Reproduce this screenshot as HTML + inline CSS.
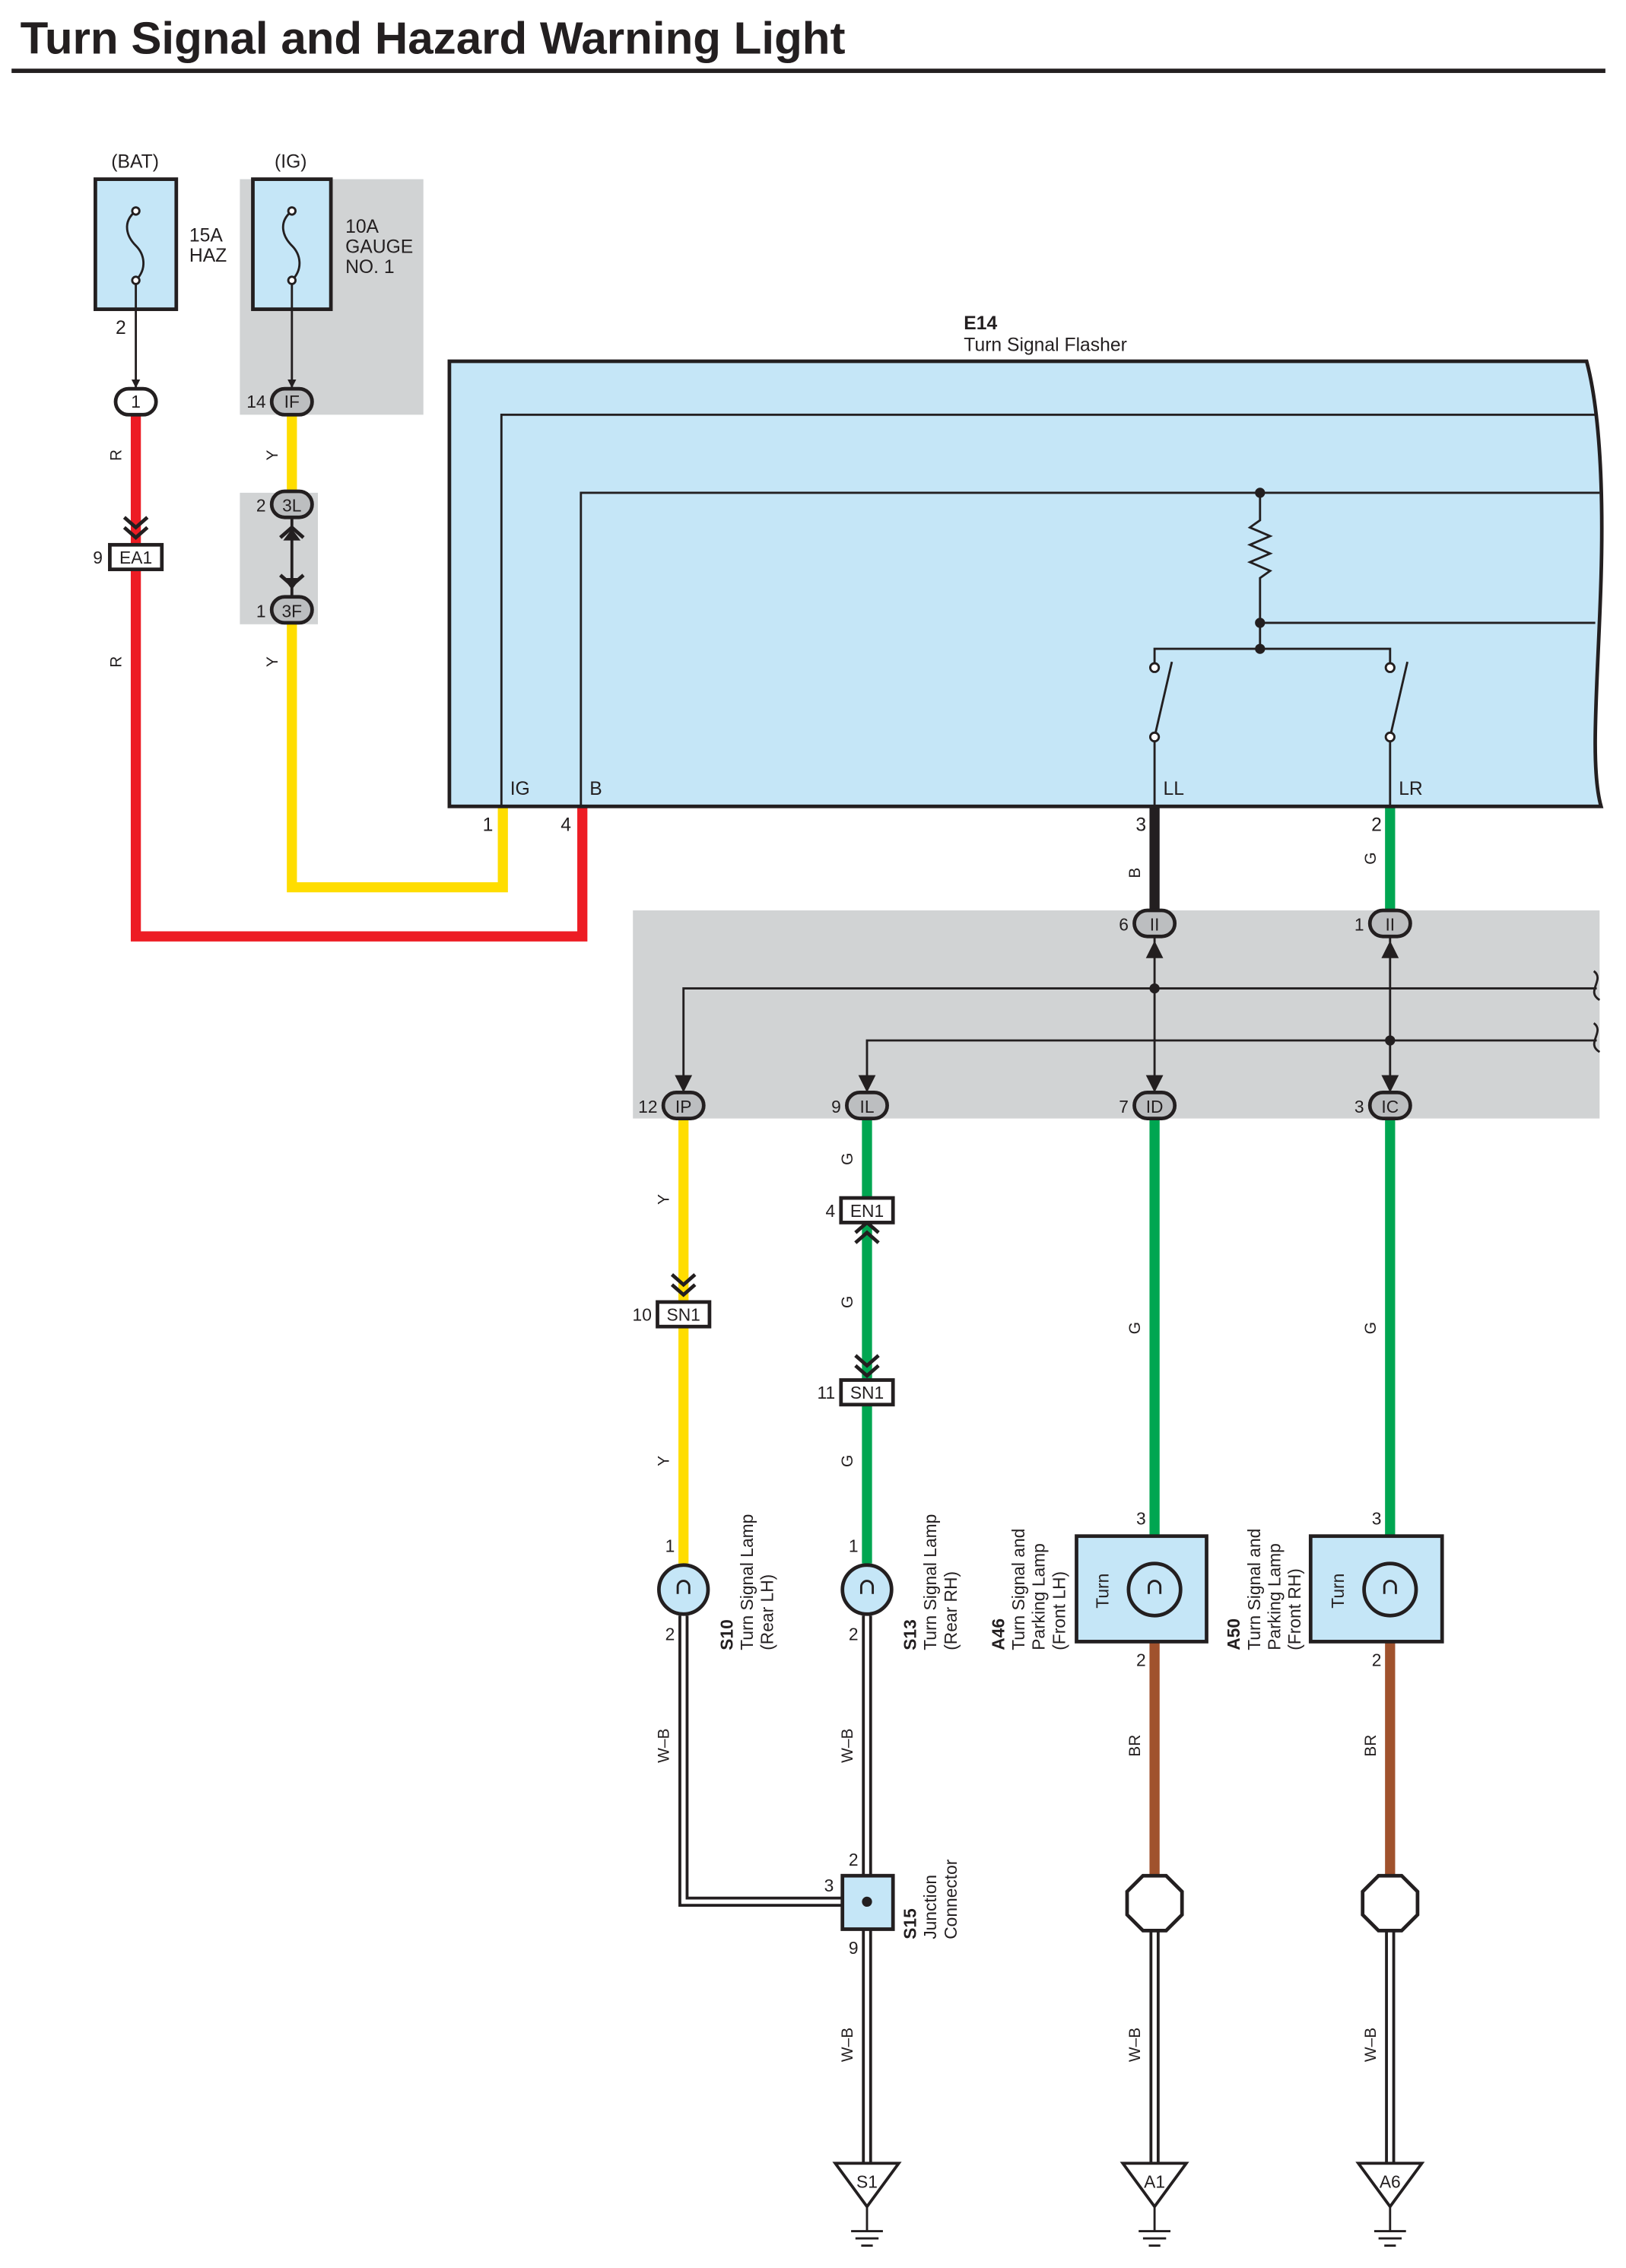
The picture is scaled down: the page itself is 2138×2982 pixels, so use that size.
<!DOCTYPE html>
<html><head><meta charset="utf-8"><style>html,body{margin:0;padding:0;background:#fff}svg{display:block}text{font-family:"Liberation Sans",sans-serif;fill:#231f20}</style></head><body>
<svg width="2138" height="2982" viewBox="0 0 1125.26 1569.47" xmlns="http://www.w3.org/2000/svg">
<defs>
<marker id="ar" viewBox="0 0 10 10" refX="9" refY="5" markerWidth="4" markerHeight="4" orient="auto"><path d="M0,0L10,5L0,10z" fill="#231f20"/></marker>
</defs>
<text x="14" y="37" font-size="31" font-weight="bold" textLength="571" lengthAdjust="spacingAndGlyphs">Turn Signal and Hazard Warning Light</text>
<rect x="8" y="47.5" width="1103" height="3" fill="#231f20"/>

<rect x="166" y="124" width="127" height="163" fill="#d1d3d4"/>
<rect x="166" y="341" width="54" height="91" fill="#d1d3d4"/>
<rect x="438" y="630" width="669" height="144" fill="#d1d3d4"/>

<g fill="none" stroke-linejoin="miter">
<path d="M94,287V648H403V558" stroke="#ed1c24" stroke-width="7"/>
<path d="M202,287V341" stroke="#ffdd00" stroke-width="7"/>
<path d="M202,431V614H348V558" stroke="#ffdd00" stroke-width="7"/>
<path d="M799,558V630" stroke="#231f20" stroke-width="7"/>
<path d="M962,558V630" stroke="#00a651" stroke-width="7"/>
<path d="M473,774V1082" stroke="#ffdd00" stroke-width="7"/>
<path d="M600,774V1082" stroke="#00a651" stroke-width="7"/>
<path d="M799,774V1063" stroke="#00a651" stroke-width="7"/>
<path d="M962,774V1063" stroke="#00a651" stroke-width="7"/>
<path d="M799,1136V1298" stroke="#a0522d" stroke-width="7"/>
<path d="M962,1136V1298" stroke="#a0522d" stroke-width="7"/>
<g stroke="#231f20" stroke-width="7"><path d="M473,1118V1316H583"/><path d="M600,1118V1298M600,1335V1497"/><path d="M799,1336V1497"/><path d="M962,1336V1497"/></g>
<g stroke="#fff" stroke-width="3"><path d="M473,1118V1316H583"/><path d="M600,1118V1298M600,1335V1497"/><path d="M799,1336V1497"/><path d="M962,1336V1497"/></g>
</g>

<rect x="66" y="124" width="56" height="90" fill="#c5e6f7" stroke="#231f20" stroke-width="2.5"/>
<rect x="175" y="124" width="54" height="90" fill="#c5e6f7" stroke="#231f20" stroke-width="2.5"/>
<g fill="none" stroke="#231f20" stroke-width="1.5">
<path d="M94,146c-10,8 -6,18 0,24s8,16 0,24"/><path d="M202,146c-10,8 -6,18 0,24s8,16 0,24"/>
<path d="M94,194V268" marker-end="url(#ar)"/><path d="M202,194V268" marker-end="url(#ar)"/>
</g>
<g fill="#fff" stroke="#231f20" stroke-width="1.5"><circle cx="94" cy="146" r="2.5"/><circle cx="94" cy="194" r="2.5"/><circle cx="202" cy="146" r="2.5"/><circle cx="202" cy="194" r="2.5"/></g>
<g font-size="13"><text x="77" y="116">(BAT)</text><text x="190" y="116">(IG)</text>
<text x="131" y="167">15A</text><text x="131" y="181">HAZ</text>
<text x="239" y="161">10A</text><text x="239" y="175">GAUGE</text><text x="239" y="189">NO. 1</text>
<text x="80" y="231">2</text></g>

<g fill="none" stroke="#231f20" stroke-width="2.5">
<path d="M86,358l8,7l8,-7M86,365l8,7l8,-7"/>
<path d="M194,372l8,-7l8,7M194,398l8,7l8,-7"/>
<path d="M465,882l8,7l8,-7M465,889l8,7l8,-7"/>
<path d="M592,860l8,-7l8,7M592,853l8,-7l8,7"/>
<path d="M592,938l8,7l8,-7M592,945l8,7l8,-7"/>
</g>
<path d="M202,359V412" stroke="#231f20" stroke-width="2"/>
<path d="M196,374l6,-8l6,8zM196,400l6,8l6,-8z" fill="#231f20"/>

<path d="M311,250H1098c8,30 12,80 10,150c-2,70 -8,130 0,158H311z" fill="#c5e6f7" stroke="#231f20" stroke-width="2.5"/>
<text x="667" y="228" font-size="13" font-weight="bold">E14</text><text x="667" y="243" font-size="13">Turn Signal Flasher</text>
<g fill="none" stroke="#231f20" stroke-width="1.5">
<path d="M347,558V287H1105"/><path d="M402,558V341H1107"/>
<path d="M872,341V360l-7,5l14,6l-14,6l14,6l-14,6l14,6l-7,5V449"/>
<path d="M872,431H1104"/><path d="M799,461V449H962V461"/>
<path d="M799,510L811,458M962,510L974,458"/>
<path d="M799,510V558M962,510V558"/>
</g>
<g fill="#231f20"><circle cx="872" cy="341" r="3.5"/><circle cx="872" cy="431" r="3.5"/><circle cx="872" cy="449" r="3.5"/></g>
<g fill="#fff" stroke="#231f20" stroke-width="1.5"><circle cx="799" cy="462" r="3"/><circle cx="962" cy="462" r="3"/><circle cx="799" cy="510" r="3"/><circle cx="962" cy="510" r="3"/></g>
<g font-size="13"><text x="353" y="550">IG</text><text x="408" y="550">B</text><text x="805" y="550">LL</text><text x="968" y="550">LR</text>
<text x="334" y="575">1</text><text x="388" y="575">4</text><text x="786" y="575">3</text><text x="949" y="575">2</text></g>

<g fill="none" stroke="#231f20" stroke-width="1.5">
<path d="M473,755V684H1105"/><path d="M600,755V720H1105"/>
<path d="M799,648V755"/><path d="M962,648V755"/>
<path d="M1103,672c8,6 -6,14 4,20M1103,708c8,6 -6,14 4,20"/>
</g>
<g fill="#231f20"><circle cx="799" cy="684" r="3.5"/><circle cx="962" cy="720" r="3.5"/>
<path d="M467,744l6,12l6,-12zM594,744l6,12l6,-12zM793,744l6,12l6,-12zM956,744l6,12l6,-12zM793,663l6,-12l6,12zM956,663l6,-12l6,12z"/></g>

<g stroke="#231f20" stroke-width="2.5" fill="#fff">
<rect x="80" y="269" width="28" height="18" rx="9"/>
<rect x="188" y="269" width="28" height="18" rx="9" fill="#bcbec0"/>
<rect x="188" y="340" width="28" height="18" rx="9" fill="#bcbec0"/>
<rect x="188" y="413" width="28" height="18" rx="9" fill="#bcbec0"/>
<rect x="785" y="630" width="28" height="18" rx="9" fill="#bcbec0"/>
<rect x="948" y="630" width="28" height="18" rx="9" fill="#bcbec0"/>
<rect x="459" y="756" width="28" height="18" rx="9" fill="#bcbec0"/>
<rect x="586" y="756" width="28" height="18" rx="9" fill="#bcbec0"/>
<rect x="785" y="756" width="28" height="18" rx="9" fill="#bcbec0"/>
<rect x="948" y="756" width="28" height="18" rx="9" fill="#bcbec0"/>
<rect x="76" y="377" width="36" height="17"/>
<rect x="455" y="901" width="36" height="17"/>
<rect x="582" y="829" width="36" height="17"/>
<rect x="582" y="955" width="36" height="17"/>
</g>
<g font-size="12" text-anchor="middle">
<text x="94" y="282">1</text><text x="202" y="282" fill="#fff">IF</text><text x="202" y="354" fill="#fff">3L</text><text x="202" y="427" fill="#fff">3F</text>
<text x="799" y="644" fill="#fff">II</text><text x="962" y="644" fill="#fff">II</text>
<text x="473" y="770" fill="#fff">IP</text><text x="600" y="770" fill="#fff">IL</text><text x="799" y="770" fill="#fff">ID</text><text x="962" y="770" fill="#fff">IC</text>
<text x="94" y="390">EA1</text><text x="473" y="914">SN1</text><text x="600" y="842">EN1</text><text x="600" y="968">SN1</text>
</g>
<g font-size="12" text-anchor="end">
<text x="184" y="282">14</text><text x="184" y="354">2</text><text x="184" y="427">1</text><text x="71" y="390">9</text>
<text x="781" y="644">6</text><text x="944" y="644">1</text>
<text x="455" y="770">12</text><text x="582" y="770">9</text><text x="781" y="770">7</text><text x="944" y="770">3</text>
<text x="451" y="914">10</text><text x="578" y="842">4</text><text x="578" y="968">11</text>
<text x="467" y="1074">1</text><text x="594" y="1074">1</text><text x="793" y="1055">3</text><text x="956" y="1055">3</text>
<text x="467" y="1135">2</text><text x="594" y="1135">2</text><text x="793" y="1153">2</text><text x="956" y="1153">2</text>
<text x="577" y="1309">3</text><text x="594" y="1291">2</text><text x="594" y="1352">9</text>
</g>

<g font-size="11" text-anchor="middle">
<text transform="translate(84,315) rotate(-90)">R</text><text transform="translate(84,458) rotate(-90)">R</text>
<text transform="translate(192,315) rotate(-90)">Y</text><text transform="translate(192,458) rotate(-90)">Y</text>
<text transform="translate(789,604) rotate(-90)">B</text><text transform="translate(952,594) rotate(-90)">G</text>
<text transform="translate(463,830) rotate(-90)">Y</text><text transform="translate(463,1011) rotate(-90)">Y</text>
<text transform="translate(590,802) rotate(-90)">G</text><text transform="translate(590,901) rotate(-90)">G</text><text transform="translate(590,1011) rotate(-90)">G</text>
<text transform="translate(789,919) rotate(-90)">G</text><text transform="translate(952,919) rotate(-90)">G</text>
<text transform="translate(463,1208) rotate(-90)">W–B</text><text transform="translate(590,1208) rotate(-90)">W–B</text><text transform="translate(590,1415) rotate(-90)">W–B</text>
<text transform="translate(789,1415) rotate(-90)">W–B</text><text transform="translate(952,1415) rotate(-90)">W–B</text>
<text transform="translate(789,1208) rotate(-90)">BR</text><text transform="translate(952,1208) rotate(-90)">BR</text>
</g>

<rect x="745" y="1063" width="90" height="73" fill="#c5e6f7" stroke="#231f20" stroke-width="2.5"/>
<rect x="907" y="1063" width="91" height="73" fill="#c5e6f7" stroke="#231f20" stroke-width="2.5"/>
<g fill="#c5e6f7" stroke="#231f20" stroke-width="2.5">
<circle cx="473" cy="1100" r="17"/><circle cx="600" cy="1100" r="17"/><circle cx="799" cy="1100" r="18"/><circle cx="962" cy="1100" r="18"/>
</g>
<g fill="none" stroke="#231f20" stroke-width="1.5">
<path d="M469,1103v-5a4,4 0 0 1 8,0v5M596,1103v-5a4,4 0 0 1 8,0v5M795,1103v-5a4,4 0 0 1 8,0v5M958,1103v-5a4,4 0 0 1 8,0v5"/>
</g>
<g font-size="12">
<text transform="translate(767,1113) rotate(-90)">Turn</text><text transform="translate(930,1113) rotate(-90)">Turn</text>
<text transform="translate(507,1142) rotate(-90)"><tspan font-weight="bold">S10</tspan></text>
<text transform="translate(521,1142) rotate(-90)">Turn Signal Lamp</text><text transform="translate(535,1142) rotate(-90)">(Rear LH)</text>
<text transform="translate(634,1142) rotate(-90)"><tspan font-weight="bold">S13</tspan></text>
<text transform="translate(648,1142) rotate(-90)">Turn Signal Lamp</text><text transform="translate(662,1142) rotate(-90)">(Rear RH)</text>
<text transform="translate(695,1142) rotate(-90)" font-weight="bold">A46</text>
<text transform="translate(709,1142) rotate(-90)">Turn Signal and</text><text transform="translate(723,1142) rotate(-90)">Parking Lamp</text><text transform="translate(737,1142) rotate(-90)">(Front LH)</text>
<text transform="translate(858,1142) rotate(-90)" font-weight="bold">A50</text>
<text transform="translate(872,1142) rotate(-90)">Turn Signal and</text><text transform="translate(886,1142) rotate(-90)">Parking Lamp</text><text transform="translate(900,1142) rotate(-90)">(Front RH)</text>
<text transform="translate(634,1342) rotate(-90)" font-weight="bold">S15</text>
<text transform="translate(648,1342) rotate(-90)">Junction</text><text transform="translate(662,1342) rotate(-90)">Connector</text>
</g>

<rect x="583" y="1298" width="35" height="37" fill="#c5e6f7" stroke="#231f20" stroke-width="2.5"/>
<circle cx="600" cy="1316" r="3.5" fill="#231f20"/>

<g fill="#fff" stroke="#231f20" stroke-width="2.5">
<path d="M791,1298h16l11,11v16l-11,11h-16l-11,-11v-16z"/>
<path d="M954,1298h16l11,11v16l-11,11h-16l-11,-11v-16z"/>
</g>

<g fill="#fff" stroke="#231f20" stroke-width="2">
<path d="M578,1497h44l-22,30z"/><path d="M777,1497h44l-22,30z"/><path d="M940,1497h44l-22,30z"/>
</g>
<g stroke="#231f20" stroke-width="1.5">
<path d="M600,1527v17M589,1544h22M592,1549h16M596,1554h8"/>
<path d="M799,1527v17M788,1544h22M791,1549h16M795,1554h8"/>
<path d="M962,1527v17M951,1544h22M954,1549h16M958,1554h8"/>
</g>
<g font-size="12" text-anchor="middle"><text x="600" y="1514">S1</text><text x="799" y="1514">A1</text><text x="962" y="1514">A6</text></g>
</svg>
</body></html>
